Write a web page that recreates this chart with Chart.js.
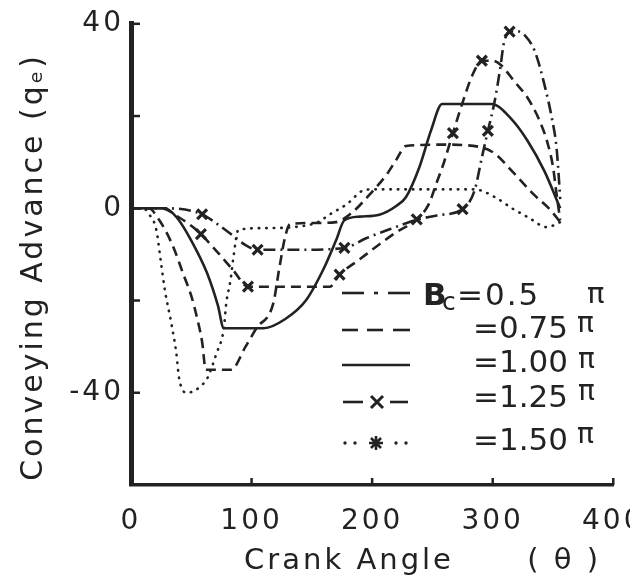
<!DOCTYPE html>
<html>
<head>
<meta charset="utf-8">
<script src="https://cdn.jsdelivr.net/npm/chart.js@4.4.1/dist/chart.umd.min.js"></script>
<style>
  html, body { margin: 0; padding: 0; background: #fff; overflow: hidden; }
  #wrap { position: absolute; left: 0; top: 0; width: 660px; height: 579px; }
  #legend { position: absolute; left: 0; top: 0; width: 630px; height: 579px; pointer-events: none; }
  #legend text { font-family: 'DejaVu Sans', sans-serif; fill: #222; }
</style>
</head>
<body>
<div id="wrap"><canvas id="chart"></canvas></div>

<svg id="legend" width="630" height="579" viewBox="0 0 630 579">
  <g stroke="#222" stroke-width="2.6" fill="none">
    <line x1="342" y1="293" x2="364" y2="293"/><line x1="374" y1="293" x2="378" y2="293"/><line x1="388" y1="293" x2="410" y2="293"/>
    <line x1="342" y1="330" x2="358" y2="330"/><line x1="367" y1="330" x2="383" y2="330"/><line x1="393" y1="330" x2="410" y2="330"/>
    <line x1="342" y1="365" x2="410" y2="365"/>
    <line x1="343" y1="402" x2="363" y2="402"/><line x1="390" y1="402" x2="408" y2="402"/>
    <path d="M371 396 L383 408 M383 396 L371 408" stroke-width="3"/>
    <path d="M376 436 V450 M369 443 H383 M371 438 L381 448 M381 438 L371 448" stroke-width="2.6"/>
  </g>
  <g fill="#222">
    <circle cx="345" cy="443" r="1.7"/><circle cx="355" cy="443" r="1.7"/>
    <circle cx="396" cy="443" r="1.7"/><circle cx="406" cy="443" r="1.7"/>
  </g>
  <text x="423" y="305" font-size="31" font-weight="bold">B</text>
  <text x="442" y="310" font-size="25">c</text>
  <text x="457" y="305" font-size="31" letter-spacing="2">=0.5</text>
  <text x="587" y="303" font-size="29">π</text>
  <text x="473" y="338" font-size="31">=0.75</text>
  <text x="577" y="332" font-size="28">π</text>
  <text x="473" y="372" font-size="31">=1.00</text>
  <text x="578" y="368" font-size="28">π</text>
  <text x="473" y="407" font-size="31">=1.25</text>
  <text x="578" y="400" font-size="28">π</text>
  <text x="473" y="450" font-size="31">=1.50</text>
  <text x="577" y="443" font-size="28">π</text>
</svg>

<script>
const ink = '#222';
const family = "'DejaVu Sans', sans-serif";

// Bc = 0.5 pi  (dash-dot, shallow trough, highest peak)
const bc050Angle = [0, 30, 59, 72, 85, 95, 105, 140, 177, 195, 215, 237, 255, 275, 285, 291, 296, 301, 304, 307, 309, 314, 320, 327, 335, 343, 349, 353, 355, 356];
const bc050Value = [0, 0, -1.3, -3.5, -6, -8, -9, -9, -8.6, -6.5, -4.5, -2.5, -1.5, -0.2, 3.9, 11, 16.8, 22.4, 26.7, 31.8, 35.5, 38.3, 38.4, 37.4, 34, 26.7, 19.6, 13, 6, 2];
const bc050Marks = [59, 105, 177, 275, 296, 314];

// Bc = 0.75 pi  (dashed, with markers)
const bc075Angle = [0, 25, 40, 50, 58, 70, 85, 97, 165, 173, 190, 205, 220, 237, 247, 253, 259, 267, 277, 283, 291, 300, 307, 318, 329, 338, 345, 350, 353, 356];
const bc075Value = [0, 0, -2, -3.8, -5.6, -9, -13.5, -17, -17, -14.4, -11, -8, -5.2, -2.4, 0.9, 5.2, 9.5, 16.3, 24.5, 28.8, 32, 32, 31, 27.5, 23.9, 19.5, 14.6, 9, 3, -2.6];
const bc075Marks = [58, 97, 173, 237, 267, 291];

// Bc = 1.00 pi  (solid)
const bc100Angle = [0, 28, 38, 50, 63, 72, 77, 110, 128, 145, 160, 170, 177, 190, 206, 220, 228, 239, 249, 258, 299, 315, 329, 343, 356];
const bc100Value = [0, 0, -2, -7, -14, -21, -26, -26, -24, -20, -13, -7, -2.6, -1.8, -1.4, 0.5, 2.4, 8.8, 17, 22.6, 22.6, 19.5, 14.6, 8, 0];

// Bc = 1.25 pi  (dashed, deep trough)
const bc125Angle = [0, 15, 22, 29, 36, 43, 50, 55, 59, 62, 83, 95, 104, 118, 123, 128, 132, 150, 170, 183, 198, 212, 220, 228, 260, 291, 302, 318, 334, 348, 356];
const bc125Value = [0, 0, -2, -5, -9, -14, -19, -24, -29, -35, -35, -30, -26, -20.6, -13, -6, -3.4, -3.2, -3, -1, 3, 7.3, 10.5, 13.5, 13.8, 13.2, 11.8, 7.5, 3, -0.4, -3];

// Bc = 1.50 pi  (dotted, deepest trough)
const bc150Angle = [0, 10, 15, 21, 25, 28, 33.5, 37.6, 40, 46.6, 53, 58, 63, 71, 77, 79, 82.6, 85, 89, 110, 138, 155, 165, 179, 193, 201, 285, 302, 316, 329, 345, 356];
const bc150Value = [0, 0, -1.3, -4.7, -12, -17.6, -25, -31.4, -37, -40, -39.5, -38.5, -37, -31.4, -26, -20.6, -15.5, -10.5, -4.7, -4.3, -4, -3, -1.3, 0.9, 3.9, 4.1, 4.1, 2.4, 0, -1.9, -4.1, -3];

const yLabels = [40, 0, -40];

const toPoints = (xs, ys) => xs.map((x, i) => ({ x: x, y: ys[i] }));

function series(label, xs, ys, dash, marks, cap) {
  return {
    label: label,
    data: toPoints(xs, ys),
    showLine: true,
    borderColor: ink,
    borderWidth: 2.6,
    borderDash: dash,
    borderCapStyle: cap || 'butt',
    cubicInterpolationMode: 'monotone',
    pointStyle: 'crossRot',
    pointRadius: ctx => (marks && ctx.raw && marks.includes(ctx.raw.x)) ? 7 : 0,
    pointHoverRadius: 0,
    pointBorderWidth: 3.2,
    pointBorderColor: ink,
    pointBackgroundColor: ink
  };
}

// tick marks drawn on the inside of the axes
const innerTicks = {
  id: 'innerTicks',
  afterDraw(chart) {
    const { ctx, chartArea: a, scales: { x, y } } = chart;
    ctx.save();
    ctx.strokeStyle = ink;
    ctx.lineWidth = 2.5;
    y.ticks.forEach(t => {
      if (t.value === 0 || t.value === -60) return;
      const p = y.getPixelForValue(t.value);
      ctx.beginPath(); ctx.moveTo(a.left, p); ctx.lineTo(a.left + 9, p); ctx.stroke();
    });
    x.ticks.forEach(t => {
      if (t.value === 0) return;
      const p = x.getPixelForValue(t.value);
      ctx.beginPath(); ctx.moveTo(p, a.bottom); ctx.lineTo(p, a.bottom - 7); ctx.stroke();
    });
    ctx.restore();
  }
};

const spacing = {
  id: 'spacing',
  beforeDraw(chart) { chart.ctx.letterSpacing = '3px'; }
};

new Chart(document.getElementById('chart'), {
  type: 'scatter',
  data: {
    datasets: [
      series('Bc=0.5π', bc050Angle, bc050Value, [12, 5, 2, 5], bc050Marks),
      series('Bc=0.75π', bc075Angle, bc075Value, [10, 6], bc075Marks),
      series('Bc=1.00π', bc100Angle, bc100Value, []),
      series('Bc=1.25π', bc125Angle, bc125Value, [10, 6]),
      series('Bc=1.50π', bc150Angle, bc150Value, [0.5, 7], null, 'round')
    ]
  },
  options: {
    responsive: true,
    maintainAspectRatio: false,
    animation: false,
    layout: { padding: { left: 0, right: 40, top: 20, bottom: 0 } },
    plugins: { legend: { display: false }, tooltip: { enabled: false } },
    scales: {
      x: {
        type: 'linear', min: 0, max: 400,
        ticks: { stepSize: 100, color: ink, padding: 20, font: { family: family, size: 28 } },
        grid: { display: false, drawTicks: false },
        border: { display: true, color: ink, width: 3.5 },
        title: { display: true, text: 'Crank Angle      ( θ ) ', align: 'end', color: ink,
                 font: { family: family, size: 29 }, padding: { top: 0, bottom: 0 } },
        afterFit: s => { s.height = 94; }
      },
      y: {
        min: -60, max: 40,
        ticks: { stepSize: 20, color: ink, padding: 7, font: { family: family, size: 28 },
                 callback: v => yLabels.includes(v) ? String(v) : '' },
        grid: { display: false, drawTicks: false },
        border: { display: true, color: ink, width: 5 },
        title: { display: true, text: 'Conveying Advance (qₑ)  ', color: ink,
                 font: { family: family, size: 30 }, padding: { top: 16, bottom: 0 } },
        afterFit: s => { s.width = 131; }
      }
    }
  },
  plugins: [innerTicks, spacing]
});
</script>
</body>
</html>
